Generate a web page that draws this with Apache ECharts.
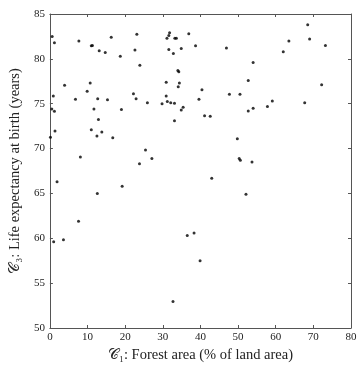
<!DOCTYPE html>
<html>
<head>
<meta charset="utf-8">
<script src="https://cdn.jsdelivr.net/npm/echarts@6/dist/echarts.min.js"></script>
<style>
  html, body { margin: 0; padding: 0; background: #fff; }
  #chart { width: 360px; height: 369px; }
</style>
</head>
<body>
<div id="chart"></div>
<script>
// forest area (% of land area) per country
var forestArea = [
  0.6, 1.2, 7.7, 11.0, 11.3, 16.3, 23.1, 13.1, 14.7, 18.7, 22.6, 23.9,
  3.9, 10.7, 9.9, 0.9, 6.8, 12.7, 15.3, 22.2, 22.9, 25.9,
  0.5, 1.2, 11.7, 19.0, 12.9, 1.35, 11.0, 13.8, 12.5, 0.15, 16.7,
  25.4, 8.1, 27.1, 23.8,
  29.8, 30.9, 30.9, 31.2, 31.1, 31.6, 31.8, 33.2, 33.6, 31.6, 32.8, 34.9, 36.9, 38.7,
  34.0, 34.25, 34.4, 34.1, 32.1, 33.1, 33.1, 35.4, 34.9, 40.4, 39.6, 41.1, 42.6,
  46.9, 54.0, 52.7, 47.7, 50.5, 52.7, 54.0, 57.8, 59.1, 62.0, 63.5, 68.5, 69.0,
  73.2, 72.2, 67.7, 49.8, 50.3, 50.6, 53.7, 43.0, 52.1,
  1.9, 19.2, 12.6, 7.6, 3.6, 1.0, 36.5, 38.3, 39.9, 32.7
]
// life expectancy at birth (years), same order
var lifeExpectancy = [
  82.5, 81.8, 82.0, 81.45, 81.5, 82.4, 82.75, 80.9, 80.7, 80.3, 81.0, 79.3,
  77.05, 77.3, 76.4, 75.85, 75.5, 75.55, 75.45, 76.1, 75.55, 75.1,
  74.4, 74.15, 74.4, 74.35, 73.25, 71.95, 72.1, 71.85, 71.4, 71.25, 71.2,
  69.85, 69.05, 68.9, 68.3,
  75.0, 77.4, 75.85, 75.25, 82.3, 82.6, 82.9, 82.3, 82.3, 81.05, 80.6, 81.15, 82.8, 81.45,
  78.7, 78.55, 77.3, 76.9, 75.1, 75.05, 73.1, 74.6, 74.3, 76.55, 75.5, 73.65, 73.6,
  81.2, 79.6, 77.6, 76.05, 76.05, 74.2, 74.5, 74.7, 75.3, 80.8, 82.0, 83.8, 82.2,
  81.5, 77.1, 75.1, 71.1, 68.9, 68.7, 68.5, 66.7, 64.9,
  66.3, 65.8, 65.0, 61.9, 59.85, 59.6, 60.3, 60.6, 57.5, 52.95
]
var xTicks = [0, 10, 20, 30, 40, 50, 60, 70, 80]
var yTicks = [50, 55, 60, 65, 70, 75, 80, 85]

var points = forestArea.map(function (x, i) { return [x, lifeExpectancy[i]] })

var font = 'Liberation Serif, DejaVu Serif, serif'
var lineCol = '#555'
var textCol = '#222'

var myChart = echarts.init(document.getElementById('chart'))

function frameAxis (pos, isX, showLabel) {
  var ticks = isX ? xTicks : yTicks
  return {
    type: 'value',
    position: pos,
    min: ticks[0],
    max: ticks[ticks.length - 1],
    interval: ticks[1] - ticks[0],
    axisLine: { show: true, onZero: false, lineStyle: { color: lineCol, width: 1 } },
    axisTick: { show: true, inside: true, length: 3, lineStyle: { color: lineCol } },
    axisLabel: {
      show: showLabel,
      color: textCol,
      fontFamily: font,
      fontSize: 11,
      margin: isX ? 4 : 5
    },
    splitLine: { show: false }
  }
}

var xBottom = frameAxis('bottom', true, true)
xBottom.name = '\uD835\uDC9E\u2081: Forest area (% of land area)'
xBottom.nameLocation = 'middle'
xBottom.nameGap = 19
xBottom.nameTextStyle = { color: textCol, fontFamily: font, fontSize: 14.5 }

var yLeft = frameAxis('left', false, true)
yLeft.name = '\uD835\uDC9E\u2083: Life expectancy at birth (years)'
yLeft.nameLocation = 'middle'
yLeft.nameGap = 18
yLeft.nameTextStyle = { color: textCol, fontFamily: font, fontSize: 14.5 }

var option = {
  animation: false,
  backgroundColor: '#fff',
  grid: { left: 37, right: 9, top: 14, bottom: 41, containLabel: false },
  xAxis: [xBottom, frameAxis('top', true, false)],
  yAxis: [yLeft, frameAxis('right', false, false)],
  series: [
    {
      type: 'scatter',
      data: points,
      symbol: 'circle',
      symbolSize: 3,
      itemStyle: { color: '#000' }
    }
  ]
}

myChart.setOption(option)
</script>
</body>
</html>
